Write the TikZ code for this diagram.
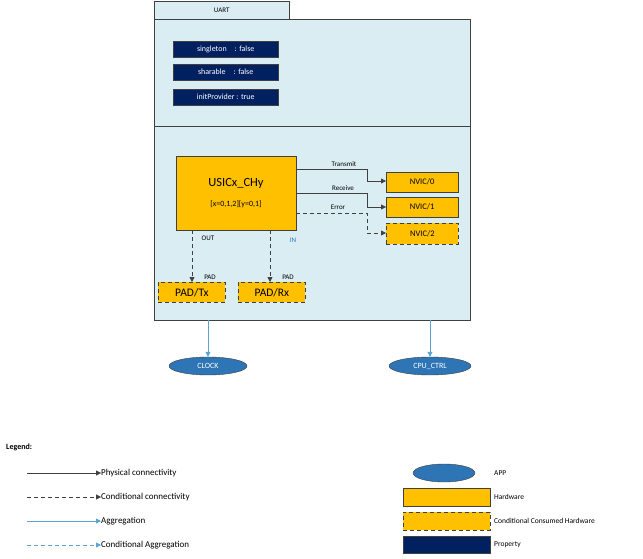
\documentclass[tikz,border=0pt]{standalone}
\usepackage{fontspec}
\setmainfont{Carlito}
\usetikzlibrary{arrows.meta,shapes.geometric}
\definecolor{bgc}{HTML}{DAEDF3}
\definecolor{hw}{HTML}{FFC000}
\definecolor{prop}{HTML}{002060}
\definecolor{app}{HTML}{2E75B6}
\definecolor{agg}{HTML}{5BA3D0}
\definecolor{ln}{HTML}{404040}
\begin{document}
\begin{tikzpicture}[x=1pt,y=-1pt,
 dsh/.style={dash pattern=on 4pt off 3pt},
 lbl/.style={font=\fontsize{7}{8}\selectfont,inner sep=0pt},
 propb/.style={draw=ln,fill=prop,text=white,minimum width=105pt,minimum height=16pt,font=\fontsize{8}{9}\selectfont,inner sep=0pt},
 hwb/.style={draw=ln,fill=hw,inner sep=0pt},
 chw/.style={draw=ln,dsh,thick,fill=hw,inner sep=0pt},
 appb/.style={ellipse,draw=ln,fill=app,inner sep=0pt},
 phys/.style={draw=ln,-{Triangle[length=5pt,width=5pt]}},
 cond/.style={draw=ln,dsh,-{Triangle[length=5pt,width=5pt]}},
 aggr/.style={draw=agg,thick,-{Triangle[length=5pt,width=5pt]}},
 caggr/.style={draw=agg,thick,dsh,-{Triangle[length=5pt,width=5pt]}}]
\useasboundingbox (0,0) rectangle (643,559);
% container
\node[draw=ln,fill=bgc,minimum width=135pt,minimum height=18pt,anchor=north west,inner sep=0pt,font=\fontsize{7}{8}\selectfont] (tab) at (154,1) {UART};
\node[draw=ln,fill=bgc,minimum width=316pt,minimum height=301pt,anchor=north west,inner sep=0pt] (main) at (154,19) {};
\coordinate (dl) at (154,126); \coordinate (dr) at (470,126);
\draw[ln] (dl) -- (dr);
\node[propb,anchor=north west] (p1) at (173,41) {singleton\quad : false};
\node[propb,anchor=north west] (p2) at (173,64) {sharable\quad : false};
\node[propb,anchor=north west] (p3) at (173,89) {initProvider : true};
% usic
\node[hwb,minimum width=120pt,minimum height=74pt,anchor=north west] (usic) at (176,156) {};
\node[font=\fontsize{12.5}{14}\selectfont] (ut) at (236,183) {USICx\_CHy};
\node[font=\fontsize{8}{9}\selectfont] (us) at (236,204) {[x=0,1,2][y=0,1]};
\node[hwb,minimum width=72pt,minimum height=20pt,anchor=north west,font=\fontsize{8.5}{9}\selectfont] (n0) at (386,172) {NVIC/0};
\node[hwb,minimum width=72pt,minimum height=20pt,anchor=north west,font=\fontsize{8.5}{9}\selectfont] (n1) at (386,197) {NVIC/1};
\node[chw,minimum width=72pt,minimum height=21pt,anchor=north west,font=\fontsize{8.5}{9}\selectfont] (n2) at (386,223) {NVIC/2};
\node[chw,minimum width=67pt,minimum height=20pt,anchor=north west,font=\fontsize{11.5}{12}\selectfont] (tx) at (158,282) {PAD/Tx};
\node[chw,minimum width=67pt,minimum height=20pt,anchor=north west,font=\fontsize{11.5}{12}\selectfont] (rx) at (238,282) {PAD/Rx};
\draw[phys,thick] (usic.east |- 0,169) -| (367,181) -- (n0.west |- 0,181);
\draw[phys] (usic.east |- 0,193) -| (367,207) -- (n1.west |- 0,207);
\draw[cond,thick] (usic.east |- 0,213) -| (367,233) -- (n2.west |- 0,233);
\node[lbl] (lt) at (344,164) {Transmit};
\node[lbl] (lr) at (343,188) {Receive};
\node[lbl] (le) at (338,207) {Error};
\draw[cond,thick] (192,230) -- (tx.north -| 192,0);
\draw[cond,thick] (270,230) -- (rx.north -| 270,0);
\node[lbl] (lo) at (208,238) {OUT};
\node[lbl,text=app] (li) at (293,240) {IN};
\node[lbl] (pa) at (210,277) {PAD};
\node[lbl] (pb) at (288,277) {PAD};
% apps
\node[appb,minimum width=78pt,minimum height=18pt,font=\fontsize{8}{9}\selectfont,text=white] (clk) at (208,366) {CLOCK};
\node[appb,minimum width=82pt,minimum height=18pt,font=\fontsize{8}{9}\selectfont,text=white] (cpu) at (430,366) {CPU\_CTRL};
\draw[aggr] (main.south -| clk) -- (clk.north);
\draw[aggr] (main.south -| cpu) -- (cpu.north);
% legend
\node[anchor=west,inner sep=0pt,font=\bfseries\fontsize{8}{9}\selectfont] (lg) at (6,447) {Legend:};
\foreach \y/\s/\t [count=\i] in {473/phys/Physical connectivity,497/cond/Conditional connectivity,521/aggr/Aggregation,545/caggr/Conditional Aggregation}{
 \coordinate (a\i) at (27,\y);
 \node[anchor=west,inner sep=0pt,font=\fontsize{9}{10}\selectfont] (t\i) at (101,\y) {\t};
 \draw[\s] (a\i) -- (t\i.west);
}
\node[appb,minimum width=62pt,minimum height=18pt] (la) at (444,473) {};
\node[hwb,minimum width=87pt,minimum height=18pt] (lh) at (446.5,497) {};
\node[chw,minimum width=87pt,minimum height=18pt] (lc) at (446.5,521) {};
\node[draw=ln,fill=prop,minimum width=87pt,minimum height=17pt,inner sep=0pt] (lp) at (446.5,545) {};
\foreach \y/\t in {473/APP,497/Hardware,521/Conditional Consumed Hardware,545/Property}
 \node[anchor=west,inner sep=0pt,font=\fontsize{7.5}{9}\selectfont] at (494,\y) {\t};
\end{tikzpicture}
\end{document}
